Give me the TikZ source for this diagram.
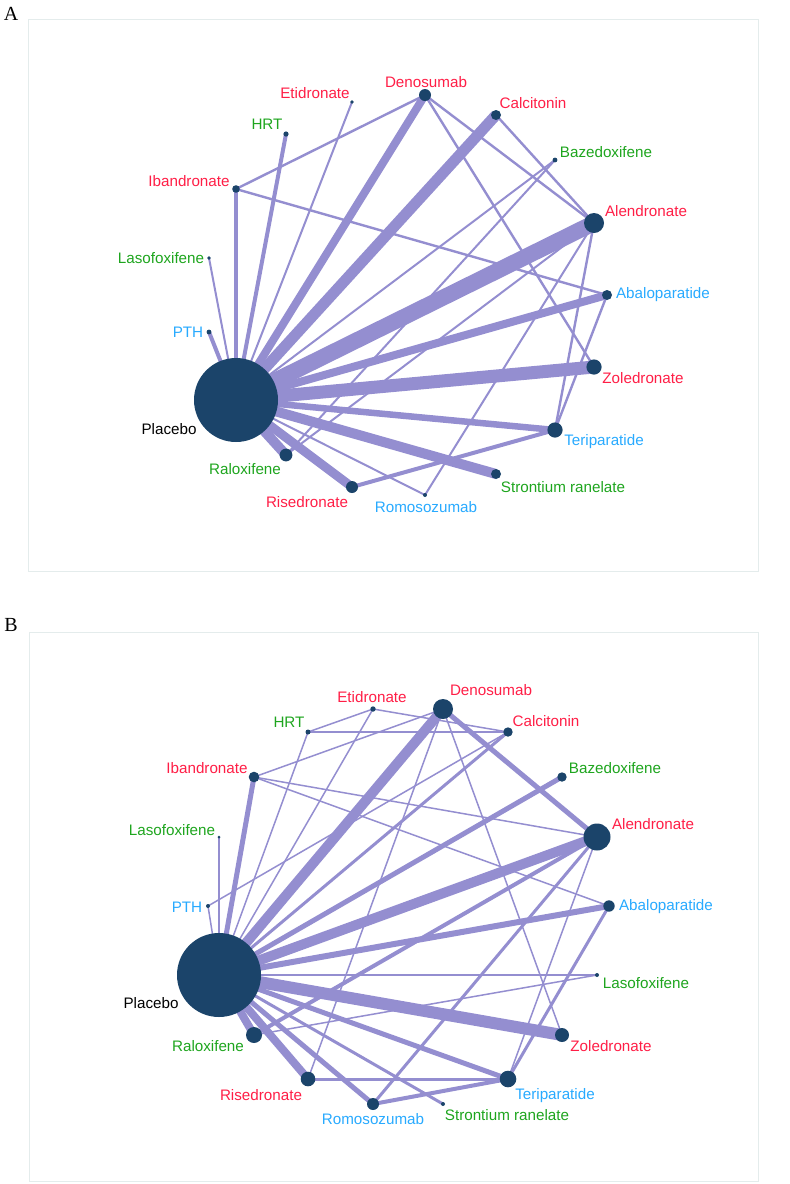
\documentclass[tikz,border=0pt]{standalone}
\usepackage{fontspec}
\setmainfont{Liberation Serif}
\setsansfont{Liberation Sans}
\usetikzlibrary{backgrounds}

\definecolor{edgecol}{RGB}{148,142,208}
\definecolor{nodecol}{RGB}{27,68,106}
\definecolor{labred}{RGB}{255,30,70}
\definecolor{labgreen}{RGB}{30,165,30}
\definecolor{labblue}{RGB}{40,170,255}
\definecolor{framecol}{RGB}{228,236,236}

\begin{document}
\begin{tikzpicture}[x=0.5pt, y=-0.5pt]
    % Styles
    \tikzstyle{trt} = [circle, fill=nodecol, inner sep=0pt, minimum size=#1*1pt]
    \tikzstyle{lab} = [font=\sffamily\fontsize{7.6}{9}\selectfont, inner sep=0pt]
    \tikzstyle{red} = [lab, text=labred]
    \tikzstyle{grn} = [lab, text=labgreen]
    \tikzstyle{blu} = [lab, text=labblue]
    \tikzstyle{blk} = [lab, text=black]
    \tikzstyle{link} = [draw=edgecol, line width=#1*0.5pt]
    \tikzstyle{panel} = [font=\rmfamily\fontsize{10}{12}\selectfont, inner sep=0pt]

    \useasboundingbox (0,0) rectangle (789,1184);

    % Panel frames
    \draw [framecol, line width=0.5pt] (28,19) rectangle (758,571);
    \draw [framecol, line width=0.5pt] (29,632) rectangle (758,1181);
    \node [panel] (tA) at (11,14) {A};
    \node [panel] (tB) at (11,625) {B};

    % Panel A: treatments
    \node [trt=42]  (aP)   at (236,400) {};
    \node [trt=2.4] (aPTH) at (209,332) {};
    \node [trt=1.8] (aLas) at (209,258) {};
    \node [trt=3.8] (aIba) at (236,189) {};
    \node [trt=2.6] (aHRT) at (286,134) {};
    \node [trt=1.8] (aEti) at (352,102) {};
    \node [trt=6]   (aDen) at (425,95)  {};
    \node [trt=5]   (aCal) at (496,115) {};
    \node [trt=2.4] (aBaz) at (555,160) {};
    \node [trt=10]  (aAle) at (594,223) {};
    \node [trt=5]   (aAba) at (607,295) {};
    \node [trt=7.6] (aZol) at (594,367) {};
    \node [trt=7.6] (aTer) at (555,430) {};
    \node [trt=5]   (aStr) at (496,474) {};
    \node [trt=2]   (aRom) at (425,495) {};
    \node [trt=6]   (aRis) at (352,487) {};
    \node [trt=6.4] (aRal) at (286,455) {};

    % Panel A: labels
    \node [blk] (aPl)   at (169,429) {Placebo};
    \node [blu] (aPTHl) at (188,332) {PTH};
    \node [grn] (aLasl) at (161,258) {Lasofoxifene};
    \node [red] (aIbal) at (189,181) {Ibandronate};
    \node [grn] (aHRTl) at (267,124) {HRT};
    \node [red] (aEtil) at (315,93)  {Etidronate};
    \node [red] (aDenl) at (426,82)  {Denosumab};
    \node [red] (aCall) at (533,103) {Calcitonin};
    \node [grn] (aBazl) at (606,152) {Bazedoxifene};
    \node [red] (aAlel) at (646,211) {Alendronate};
    \node [blu] (aAbal) at (663,295) {Abaloparatide};
    \node [red] (aZoll) at (643,378) {Zoledronate};
    \node [blu] (aTerl) at (604,442) {Teriparatide};
    \node [grn] (aStrl) at (563,487) {Strontium ranelate};
    \node [blu] (aRoml) at (426,507) {Romosozumab};
    \node [red] (aRisl) at (307,502) {Risedronate};
    \node [grn] (aRall) at (245,469) {Raloxifene};

    % Panel B: treatments
    \node [trt=42]  (bP)    at (219,975)  {};
    \node [trt=2]   (bPTH)  at (208,906)  {};
    \node [trt=1.5] (bLasL) at (219,837)  {};
    \node [trt=5.3] (bIba)  at (254,777)  {};
    \node [trt=2.5] (bHRT)  at (308,732)  {};
    \node [trt=2.7] (bEti)  at (373,709)  {};
    \node [trt=10]  (bDen)  at (443,709)  {};
    \node [trt=4.7] (bCal)  at (508,732)  {};
    \node [trt=4.7] (bBaz)  at (562,777)  {};
    \node [trt=13.5] (bAle) at (597,837)  {};
    \node [trt=5.7] (bAba)  at (609,906)  {};
    \node [trt=2]   (bLasR) at (597,975)  {};
    \node [trt=7]   (bZol)  at (562,1035) {};
    \node [trt=8.3] (bTer)  at (508,1079) {};
    \node [trt=2]   (bStr)  at (443,1104) {};
    \node [trt=6]   (bRom)  at (373,1104) {};
    \node [trt=7.3] (bRis)  at (308,1079) {};
    \node [trt=8]   (bRal)  at (254,1035) {};

    % Panel B: labels
    \node [blk] (bPl)    at (151,1003) {Placebo};
    \node [blu] (bPTHl)  at (187,907)  {PTH};
    \node [grn] (bLasLl) at (172,830)  {Lasofoxifene};
    \node [red] (bIbal)  at (207,768)  {Ibandronate};
    \node [grn] (bHRTl)  at (289,722)  {HRT};
    \node [red] (bEtil)  at (372,697)  {Etidronate};
    \node [red] (bDenl)  at (491,690)  {Denosumab};
    \node [red] (bCall)  at (546,721)  {Calcitonin};
    \node [grn] (bBazl)  at (615,768)  {Bazedoxifene};
    \node [red] (bAlel)  at (653,824)  {Alendronate};
    \node [blu] (bAbal)  at (666,907)  {Abaloparatide};
    \node [grn] (bLasRl) at (646,983)  {Lasofoxifene};
    \node [red] (bZoll)  at (611,1046) {Zoledronate};
    \node [blu] (bTerl)  at (555,1096) {Teriparatide};
    \node [grn] (bStrl)  at (507,1115) {Strontium ranelate};
    \node [blu] (bRoml)  at (373,1119) {Romosozumab};
    \node [red] (bRisl)  at (261,1095) {Risedronate};
    \node [grn] (bRall)  at (208,1046) {Raloxifene};

    \begin{pgfonlayer}{background}
    % Panel A: comparisons
    \path [link=4]   (aP.center) -- (aPTH.center);
    \path [link=2]   (aP.center) -- (aLas.center);
    \path [link=4.5] (aP.center) -- (aIba.center);
    \path [link=4]   (aP.center) -- (aHRT.center);
    \path [link=2]   (aP.center) -- (aEti.center);
    \path [link=8]   (aP.center) -- (aDen.center);
    \path [link=11]  (aP.center) -- (aCal.center);
    \path [link=2]   (aP.center) -- (aBaz.center);
    \path [link=16]  (aP.center) -- (aAle.center);
    \path [link=8]   (aP.center) -- (aAba.center);
    \path [link=13]  (aP.center) -- (aZol.center);
    \path [link=6.5] (aP.center) -- (aTer.center);
    \path [link=10]  (aP.center) -- (aStr.center);
    \path [link=2]   (aP.center) -- (aRom.center);
    \path [link=9]   (aP.center) -- (aRis.center);
    \path [link=10]  (aP.center) -- (aRal.center);
    \path [link=2.4] (aIba.center) -- (aDen.center);
    \path [link=2.4] (aIba.center) -- (aAba.center);
    \path [link=2.4] (aDen.center) -- (aAle.center);
    \path [link=2.4] (aDen.center) -- (aZol.center);
    \path [link=2.4] (aCal.center) -- (aAle.center);
    \path [link=2]   (aBaz.center) -- (aRal.center);
    \path [link=2]   (aAle.center) -- (aRal.center);
    \path [link=2]   (aAle.center) -- (aRom.center);
    \path [link=2.4] (aAle.center) -- (aTer.center);
    \path [link=2.4] (aAba.center) -- (aTer.center);
    \path [link=4]   (aRis.center) -- (aTer.center);

    % Panel B: comparisons
    \path [link=1.5] (bP.center) -- (bPTH.center);
    \path [link=1.5] (bP.center) -- (bLasL.center);
    \path [link=5]   (bP.center) -- (bIba.center);
    \path [link=1.5] (bP.center) -- (bHRT.center);
    \path [link=1.5] (bP.center) -- (bEti.center);
    \path [link=10]  (bP.center) -- (bDen.center);
    \path [link=3]   (bP.center) -- (bCal.center);
    \path [link=5]   (bP.center) -- (bBaz.center);
    \path [link=10]  (bP.center) -- (bAle.center);
    \path [link=6]   (bP.center) -- (bAba.center);
    \path [link=1.5] (bP.center) -- (bLasR.center);
    \path [link=12]  (bP.center) -- (bZol.center);
    \path [link=5]   (bP.center) -- (bTer.center);
    \path [link=3]   (bP.center) -- (bStr.center);
    \path [link=5]   (bP.center) -- (bRom.center);
    \path [link=8]   (bP.center) -- (bRis.center);
    \path [link=8]   (bP.center) -- (bRal.center);
    \path [link=1.5] (bHRT.center) -- (bEti.center);
    \path [link=2]   (bHRT.center) -- (bCal.center);
    \path [link=1.5] (bEti.center) -- (bCal.center);
    \path [link=1.5] (bIba.center) -- (bDen.center);
    \path [link=1.5] (bIba.center) -- (bAle.center);
    \path [link=1.5] (bIba.center) -- (bAba.center);
    \path [link=1.5] (bPTH.center) -- (bCal.center);
    \path [link=5]   (bDen.center) -- (bAle.center);
    \path [link=1.5] (bDen.center) -- (bZol.center);
    \path [link=1.5] (bDen.center) -- (bRis.center);
    \path [link=4]   (bAle.center) -- (bRal.center);
    \path [link=3]   (bAle.center) -- (bRom.center);
    \path [link=1.5] (bAle.center) -- (bTer.center);
    \path [link=3]   (bAba.center) -- (bTer.center);
    \path [link=1.5] (bLasR.center) -- (bRal.center);
    \path [link=3]   (bRis.center) -- (bTer.center);
    \path [link=4]   (bRom.center) -- (bTer.center);
    \end{pgfonlayer}
\end{tikzpicture}
\end{document}
